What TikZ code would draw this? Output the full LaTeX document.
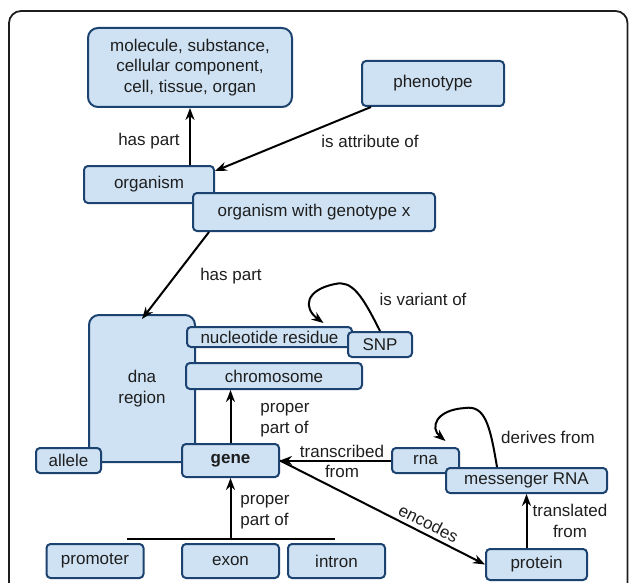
\documentclass[tikz,border=0pt]{standalone}
\usepackage{fontspec}
\setmainfont{Liberation Sans}
\usetikzlibrary{arrows.meta}
\definecolor{boxfill}{RGB}{207,226,243}
\definecolor{boxline}{RGB}{28,66,112}
\definecolor{ink}{RGB}{30,30,30}

\begin{document}
\begin{tikzpicture}
 [
  x=1pt, y=-1pt,
  >={Stealth[length=12pt,width=9pt]},
  box/.style   = {draw=boxline, fill=boxfill, line width=2pt, rounded corners=4pt,
                  inner sep=0pt, text=ink, align=center, font=\fontsize{17}{20.5}\selectfont},
  wh/.style 2 args = {minimum width=#1pt, minimum height=#2pt},
  lbl/.style   = {inner sep=0pt, text=ink, font=\fontsize{17}{20.5}\selectfont},
  rel/.style   = {->, line width=2pt},
 ]
 \def \radius {12pt} % corner of the frame
 \def \bw {97}

 \useasboundingbox (0,0) rectangle (629,583);
 \clip (0,0) rectangle (629,583);
 \draw[line width=1.8pt, ink, rounded corners=\radius] (9,620) rectangle (627.5,11);

 % boxes
 \node[box, wh={204}{79}, rounded corners=10pt] (mol) at (190,67.5) {molecule, substance,\\cellular component,\\cell, tissue, organ};
 \node[box, wh={142}{45}] (phen) at (433,83.5) {phenotype};
 \node[box, wh={130}{37}] (org) at (149,184.5) {organism};
 \node[box, wh={242}{38}] (orgx) at (314,212) {organism with genotype x};
 \node[box, wh={106}{147}, rounded corners=10pt] (dna) at (142,388.5) {dna\\region};
 \node[box, wh={165}{20}] (nuc) at (269.5,337) {nucleotide residue};
 \node[box, wh={64}{25}] (snp) at (380,344.5) {SNP};
 \node[box, wh={176}{26}] (chrom) at (274,376) {chromosome};
 \node[box, wh={65}{25}] (allele) at (68.5,460.5) {allele};
 \node[box, wh={\bw}{33}, font=\fontsize{17}{20.5}\selectfont\bfseries] (gene) at (230.5,460.5) {gene};
 \foreach \name/\x in {promoter/95, exon/230.5, intron/336.5}
  \node[box, wh={\bw}{34}] (\name) at (\x,561) {\name};
 \node[box, wh={67}{25}] (rna) at (425.5,460.5) {rna};
 \node[box, wh={161}{25}] (mrna) at (526.5,480.5) {messenger RNA};
 \node[box, wh={101}{31}] (protein) at (536.5,564.5) {protein};

 % labels
 \node[lbl] (lhas1) at (149,141) {has part};
 \node[lbl] (lattr) at (370,141) {is attribute of};
 \node[lbl] (lhas2) at (231,276) {has part};
 \node[lbl] (lvar) at (423,299) {is variant of};
 \node[lbl, align=left] (lpp1) at (285,420) {proper\\part of};
 \node[lbl, align=left] (lpp2) at (265,512) {proper\\part of};
 \node[lbl, align=center] (ltrans) at (342,461.5) {transcribed\\from};
 \node[lbl] (lderiv) at (548,437) {derives from};
 \node[lbl, align=center] (ltransl) at (570,521) {translated\\from};

 % relations
 \draw[rel] (org.north -| mol) -- (mol.south);
 \draw[rel] ([xshift=10pt]phen.south west) -- ([yshift=-6pt]org.north east);
 \draw[rel] ([xshift=17pt]orgx.south west) -- ([yshift=-5pt]dna.north);
 \draw[rel] (snp.north) .. controls (362,295) and (352,280) .. (335,284)
   .. controls (305,290) and (303,308) .. ([xshift=54pt,yshift=3pt]nuc.north);
 \draw[rel] (gene.north) -- (gene.north |- chrom.south);
 \coordinate (busl) at (127,539);
 \coordinate (busr) at (335,539);
 \draw[line width=2pt] (busl) -- (busr);
 \draw[rel] (gene.south |- busl) -- (gene.south);
 \draw[rel] (rna.west) -- (gene.east);
 \draw[rel] (gene.east) -- node[lbl, sloped, above=4pt, pos=0.7] (lenc) {encodes} (protein.west);
 \draw[rel] (protein.north -| mrna) -- (mrna.south);
 \draw[rel] ([xshift=-29.5pt]mrna.north) .. controls (490,425) and (485,405) .. (465,408)
   .. controls (435,410) and (430,428) .. ([xshift=20pt,yshift=6pt]rna.north);
\end{tikzpicture}
\end{document}
